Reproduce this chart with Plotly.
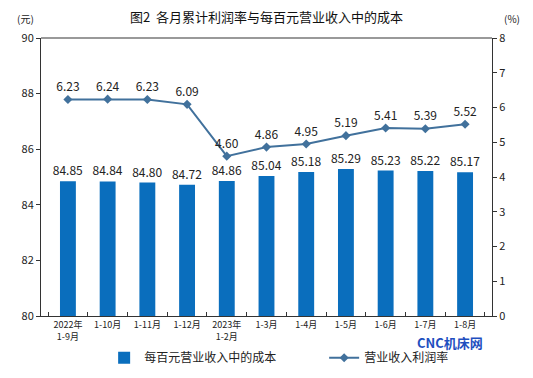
import plotly.graph_objects as go

categories = ["2022年<br>1-9月", "1-10月", "1-11月", "1-12月", "2023年<br>1-2月",
              "1-3月", "1-4月", "1-5月", "1-6月", "1-7月", "1-8月"]
cost = [84.85, 84.84, 84.80, 84.72, 84.86, 85.04, 85.18, 85.29, 85.23, 85.22, 85.17]
margin_rate = [6.23, 6.24, 6.23, 6.09, 4.60, 4.86, 4.95, 5.19, 5.41, 5.39, 5.52]

font = "Noto Sans CJK SC, DejaVu Sans, sans-serif"

fig = go.Figure()
fig.add_trace(go.Bar(
    x=categories, y=[c - 80 for c in cost], base=80,
    name="每百元营业收入中的成本",
    marker=dict(color="#0A6EBD", line=dict(width=0)),
    width=0.4,
    text=[f"{c:.2f}" for c in cost], textposition="outside",
    constraintext="none",
    textfont=dict(size=12, color="#222"), cliponaxis=False,
    hoverinfo="skip",
))
fig.add_trace(go.Scatter(
    x=categories, y=margin_rate, yaxis="y2",
    name="营业收入利润率",
    mode="lines+markers+text",
    line=dict(color="#41719C", width=2),
    marker=dict(symbol="diamond", size=7, color="#41719C"),
    text=[f"{v:.2f}" for v in margin_rate], textposition="top center",
    textfont=dict(size=12, color="#222"), cliponaxis=False,
))

fig.update_layout(
    width=533, height=378,
    margin=dict(l=33, r=49, t=30, b=70, autoexpand=False),
    paper_bgcolor="white", plot_bgcolor="white",
    font=dict(family=font, size=11, color="#222"),
    showlegend=True,
    legend=dict(orientation="h", x=0.14, xanchor="left", y=-0.15, yanchor="middle",
                font=dict(size=12), itemwidth=30, traceorder="normal",
                bgcolor="rgba(0,0,0,0)",
                entrywidth=175, entrywidthmode="pixels"),
    xaxis=dict(showline=True, linecolor="#333", linewidth=1, mirror=False,
               ticks="inside", tickson="boundaries", ticklen=4, tickcolor="#333",
               tickangle=0, tickfont=dict(size=9), showgrid=False),
    yaxis=dict(range=[80, 90], dtick=2, showgrid=False, showline=True, linecolor="#333",
               ticks="outside", ticklen=4, tickcolor="#333", tickfont=dict(size=11)),
    yaxis2=dict(range=[0, 8], dtick=1, overlaying="y", side="right", showgrid=False,
                showline=True, linecolor="#333", ticks="outside", ticklen=4, tickcolor="#333",
                tickfont=dict(size=11)),
    bargap=0.6,
)
# title
fig.add_annotation(text="图2  各月累计利润率与每百元营业收入中的成本", xref="paper", yref="paper",
                   x=0.5, y=1.079, xanchor="center", yanchor="middle", showarrow=False,
                   font=dict(size=13, color="#111"))
# top border
fig.add_shape(type="line", xref="paper", yref="paper", x0=0, x1=1, y0=1, y1=1,
              line=dict(color="#999", width=2))
fig.add_annotation(text="(元)", xref="paper", yref="paper", x=-0.035, y=1.035,
                   xanchor="center", yanchor="bottom", showarrow=False, font=dict(size=10))
fig.add_annotation(text="(%)", xref="paper", yref="paper", x=1.044, y=1.035,
                   xanchor="center", yanchor="bottom", showarrow=False, font=dict(size=10))
fig.add_annotation(text="<b>CNC机床网</b>", xref="paper", yref="paper", x=0.984, y=-0.055,
                   xanchor="right", yanchor="top", showarrow=False,
                   font=dict(size=13, color="#1F4FBF"))

fig.write_html("out.html")
